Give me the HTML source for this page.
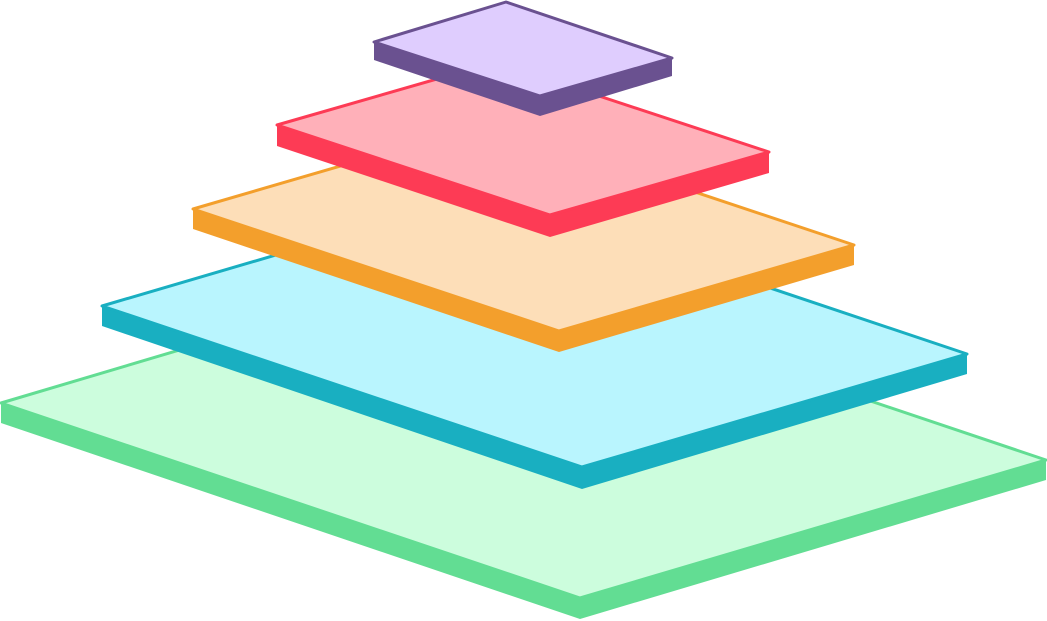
<!DOCTYPE html>
<html><head><meta charset="utf-8"><style>html,body{margin:0;padding:0;background:#fff;}svg{display:block}</style></head>
<body>
<svg width="1047" height="621" viewBox="0 0 1047 621" xmlns="http://www.w3.org/2000/svg">
<g stroke-linejoin="round">
<!-- green -->
<polygon points="1,403 580,598 1046,460 1046,480 580,619 1,423" fill="#62dd93"/>
<polygon points="1,403 466,265 1046,460 580,598" fill="#ccfddd" stroke="#62dd93" stroke-width="3"/>
<!-- cyan -->
<polygon points="102,306 582,467 967,354 967,374 582,489 102,326" fill="#19afc1"/>
<polygon points="102,306 487,193 967,354 582,467" fill="#b9f5fe" stroke="#19afc1" stroke-width="3"/>
<!-- orange -->
<polygon points="193,209 559,331 854,245 854,265 559,352 193,229" fill="#f39f2c"/>
<polygon points="193,209 488,123 854,245 559,331" fill="#fddeb8" stroke="#f39f2c" stroke-width="3"/>
<!-- red -->
<polygon points="277,125 550,215 769,152 769,173 550,237 277,146" fill="#fd3b55"/>
<polygon points="277,125 496,62 769,152 550,215" fill="#ffb0b9" stroke="#fd3b55" stroke-width="3"/>
<!-- purple -->
<polygon points="374,42 540,96 672,58 672,76 540,116 374,60" fill="#6a5190"/>
<polygon points="374,42 506,2 672,58 540,96" fill="#dfcdfe" stroke="#6a5190" stroke-width="3"/>
</g>
</svg>
</body></html>
